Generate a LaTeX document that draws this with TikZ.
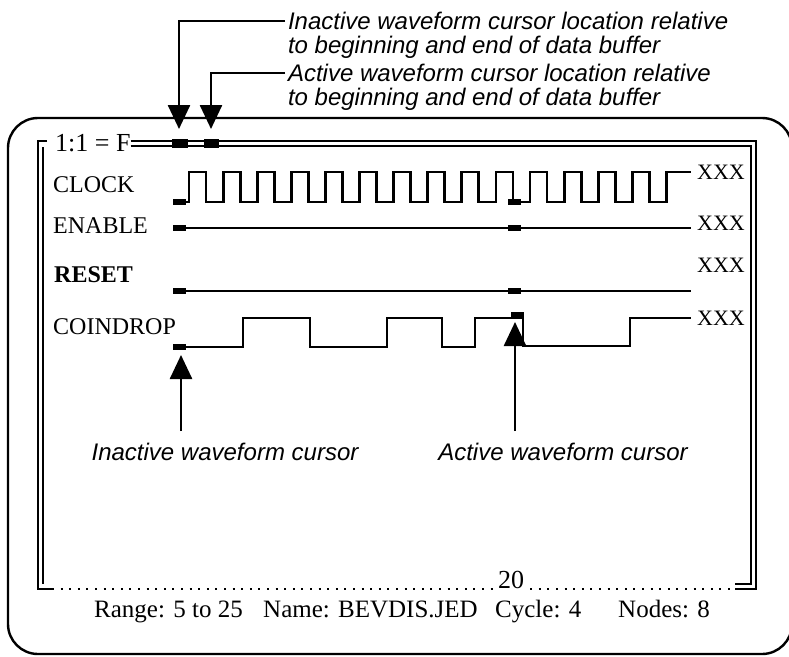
\documentclass[tikz,border=0pt]{standalone}
\usepackage{fontspec}
\setmainfont{Liberation Serif}
\setsansfont{Liberation Sans}
\usetikzlibrary{arrows.meta,calc}

\tikzset{
  wave/.style={line width=2.8pt,line join=miter},
  frameline/.style={line width=2pt},
  lead/.style={line width=2.6pt,-{Triangle[width=22pt,length=24pt]}},
  sig/.style={anchor=base west,inner sep=0pt,font=\fontsize{24}{24}\selectfont},
  xxx/.style={anchor=base west,inner sep=0pt,font=\fontsize{22}{22}\selectfont},
  note/.style={inner sep=0pt,outer sep=3pt,font=\sffamily\itshape\fontsize{24}{26}\selectfont},
  stat/.style={anchor=base west,inner sep=0pt,font=\fontsize{25}{25}\selectfont},
}
\newcommand{\cursormark}[2]{\fill (#1-6.5,#2-3) rectangle (#1+6.5,#2+3);}

\begin{document}
\begin{tikzpicture}[x=1pt,y=-1pt]
\useasboundingbox (0,0) rectangle (789,656);
\clip (0,0) rectangle (789,656);

\draw[line width=2.4pt,rounded corners=30pt] (8,118) rectangle (792,654);

\node[note,anchor=west] (inloc1) at (285,21) {Inactive waveform cursor location relative};
\node[note,anchor=west] (inloc2) at (285,47) {to beginning and end of data buffer};
\node[note,anchor=west] (acloc1) at (285,73) {Active waveform cursor location relative};
\node[note,anchor=west] (acloc2) at (285,99) {to beginning and end of data buffer};
\coordinate (inctop) at (179,129);
\coordinate (actop) at (211,129);
\draw[lead] (inloc1.west) -| (inctop);
\draw[lead] (acloc1.west) -| (actop);

% display frame
\node[anchor=base west,inner sep=0pt,font=\fontsize{26}{26}\selectfont] (ratio) at (55,151) {1:1 = F};
\draw[frameline] (47,141) -- (38,141) -- (38,589) -- (52,589);
\draw[frameline] (43,147) -- (43,584);
\draw[frameline] (ratio.east |- 0,141) -- (756,141) -- (756,589) -- (735,589);
\draw[frameline] (ratio.east |- 0,146) -- (751,146) -- (751,584) -- (735,584);
\fill (172,139) rectangle (188,148);
\fill (204,139) rectangle (219,148);

\node[inner sep=0pt,font=\fontsize{26}{26}\selectfont] (tick) at (511,580) {20};
\draw[line width=2.2pt,dash pattern=on 2pt off 6.6pt] (52,589) -- (tick.west |- 0,589);
\draw[line width=2.2pt,dash pattern=on 2pt off 6.6pt] ($(tick.east |- 0,589)+(6,0)$) -- (735,589);

% signals
\node[sig] (clk) at (53,192) {CLOCK};
\node[sig] (ena) at (53,233) {ENABLE};
\node[sig,font=\bfseries\fontsize{24}{24}\selectfont] (rst) at (54,282) {RESET};
\node[sig] (coin) at (53,334) {COINDROP};

\draw[wave] (175,202) -- (189,202) foreach \i in {0,...,13} {
  -- ++(0,-30) -- ++(17,0) -- ++(0,30) -- ++(17.1,0) } -- ++(0,-30) -- (691,172);
\draw[wave] (175,228) -- (691,228);
\draw[wave] (175,291) -- (691,291);
\draw[wave] (175,347) -| (243,318) -| (310,347) -| (387,318) -| (442,347)
  -| (475,318) -| (523,346) -| (630,318) -- (691,318);

\cursormark{179}{202}
\cursormark{514}{202}
\cursormark{179}{228}
\cursormark{514}{228}
\cursormark{179}{291}
\cursormark{514}{291}
\cursormark{179}{347}
\fill (511,312) rectangle (524,318);

\node[xxx] (xclk) at (697,179) {XXX};
\node[xxx] (xena) at (697,230) {XXX};
\node[xxx] (xrst) at (697,272) {XXX};
\node[xxx] (xcoin) at (697,325) {XXX};

% cursor callouts
\coordinate (incur) at (181,355);
\coordinate (accur) at (515,322);
\node[note] (inlab) at (225,452) {Inactive waveform cursor};
\node[note] (aclab) at (563,452) {Active waveform cursor};
\draw[lead,shorten <=9pt] (inlab.north -| incur) -- (incur);
\draw[lead,shorten <=9pt] (aclab.north -| accur) -- (accur);

% status line
\node[stat] (range) at (94,617) {Range: 5 to 25};
\node[stat] (name) at (263,617) {Name: BEVDIS.JED};
\node[stat] (cycle) at (495,617) {Cycle: 4};
\node[stat] (nodes) at (618,617) {Nodes: 8};
\end{tikzpicture}
\end{document}
